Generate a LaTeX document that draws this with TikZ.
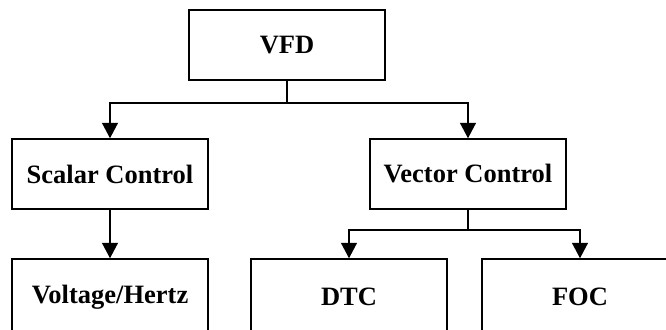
\documentclass[tikz,border=0pt]{standalone}
\usepackage{fontspec}
\setmainfont{Liberation Serif}
\usetikzlibrary{arrows.meta}
\begin{document}
\begin{tikzpicture}[x=1pt,y=-1pt,
  blk/.style={draw, line width=1.5pt, minimum width=196pt, minimum height=70pt, inner sep=0pt,
    font=\fontsize{26.5}{30}\selectfont\bfseries},
  low/.style={blk, minimum height=76pt},
  conn/.style={line width=1.5pt},
  arr/.style={conn, -{Triangle[width=16pt,length=15.5pt]}}]
\useasboundingbox (0,0) rectangle (666,329);
\clip (0,0) rectangle (666,329);
\node[blk] (vfd) at (287,45) {VFD};
\node[blk] (scalar) at (110,174) {Scalar Control};
\node[blk] (vector) at (468,174) {Vector Control};
\node[low] (vh) at (110,297) {Voltage/Hertz};
\node[low] (dtc) at (349,297) {DTC};
\node[low] (foc) at (580,297) {FOC};
\coordinate (j1) at (287,103);
\coordinate (j2) at (468,230);
\draw[conn] (vfd.south) -- (j1);
\draw[arr] (j1) -| (scalar.north);
\draw[arr] (j1) -| (vector.north);
\draw[arr] (scalar.south) -- (vh.north);
\draw[conn] (vector.south) -- (j2);
\draw[arr] (j2) -| (dtc.north);
\draw[arr] (j2) -| (foc.north);
\end{tikzpicture}
\end{document}
